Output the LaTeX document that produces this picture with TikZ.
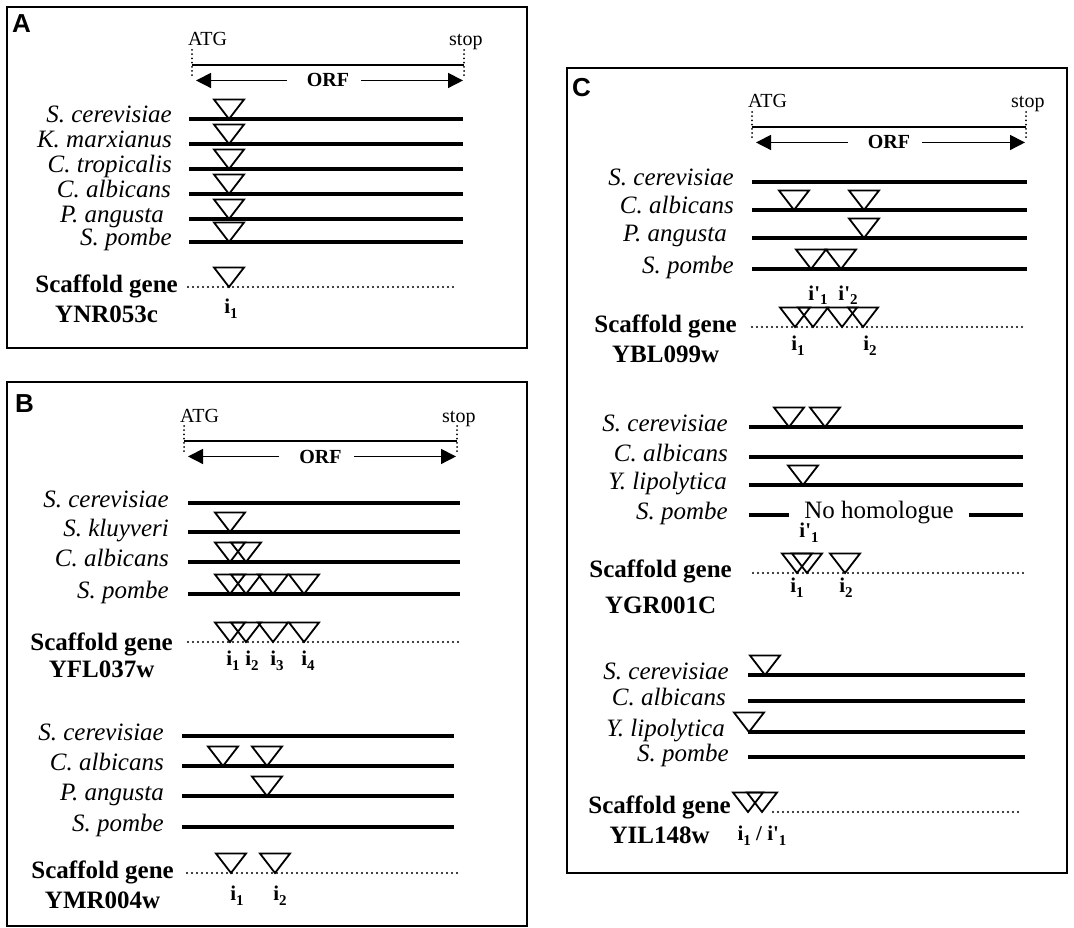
\documentclass[tikz,border=0pt]{standalone}
\usepackage{fontspec}
\setmainfont{Liberation Serif}
\newfontfamily\panelfont{Liberation Sans}
\usetikzlibrary{arrows.meta,positioning}
\tikzset{%
  panel/.style={draw, line width=1.7pt},% panel frame
  letter/.style={anchor=base west, inner sep=0, font=\panelfont\bfseries\fontsize{26}{26}\selectfont},
  species/.style={anchor=base east, inner sep=0, font=\itshape\fontsize{25}{25}\selectfont},
  scaffold/.style={anchor=base east, inner sep=0, font=\bfseries\fontsize{25}{25}\selectfont},
  geneid/.style={anchor=base, inner sep=0, font=\bfseries\fontsize{25}{25}\selectfont},
  site/.style={anchor=base, inner sep=0, font=\bfseries\fontsize{21}{21}\selectfont},% intron index
  codon/.style={anchor=base west, inner sep=0, font=\fontsize{20}{20}\selectfont},
  orf/.style={anchor=base, inner sep=0, font=\bfseries\fontsize{20}{20}\selectfont},
  nohom/.style={anchor=base, inner ysep=0, inner xsep=15pt, font=\fontsize{25}{25}\selectfont},
  orfline/.style={line width=3.2pt},% coding sequence
  gap/.style={line width=2.3pt, line cap=round, dash pattern=on 0pt off 5pt},% dotted scaffold
  span/.style={line width=2.6pt},
  tick/.style={line width=2pt, line cap=round, dash pattern=on 0pt off 4.2pt},
  orfarrow/.style={line width=1.5pt, -{Triangle[length=15pt,width=15pt]}},
  intron/.style={line width=1.8pt, line join=miter}% intron position
}
\newcommand*{\intron}[2]{\draw[intron] (#1,#2) -- ++(-15,-19.5) -- ++(30,0) -- cycle;}
\newcommand*{\orfheader}[4]{%
  \node[codon] (atg#1) at ({#2-4},{#4-19}) {ATG};
  \node[codon] (stop#1) at ({#3-15},{#4-19}) {stop};
  \draw[span] (#2,#4) -- (#3,#4);
  \draw[tick] (#2,{#4-15}) -- (#2,{#4+12});
  \draw[tick] (#3,{#4-15}) -- (#3,{#4+12});
  \node[orf] (orf#1) at ({(#2+#3)/2},{#4+22}) {ORF};
  \coordinate (start#1) at ({#2+4},{#4+15});
  \coordinate (end#1) at ({#3-1},{#4+15});
  \draw[orfarrow] ([xshift=-20pt]orf#1.west) -- (start#1 |- orf#1.west);
  \draw[orfarrow] ([xshift=12pt]orf#1.east) -- (end#1 |- orf#1.east);
}
\newcommand*{\prm}{\textquotesingle}
\newcommand*{\sub}[1]{\raisebox{-5pt}{\fontsize{15}{15}\selectfont#1}}

\begin{document}
\begin{tikzpicture}[x=1pt, y=-1pt]
\useasboundingbox (0,0) rectangle (1074,928);

% panel A
\draw[panel] (7,7) rectangle (527,348);
\node[letter] (A) at (12,33) {A};
\orfheader{A}{192}{464}{65}
\node[species] (scerA) at (172,123) {S. cerevisiae};
\node[species] (kmarA) at (172,148) {K. marxianus};
\node[species] (ctroA) at (172,173) {C. tropicalis};
\node[species] (calbA) at (171,198) {C. albicans};
\node[species] (pangA) at (164,223) {P. angusta};
\node[species] (spomA) at (172,246) {S. pombe};
\draw[orfline] (189,119) -- (463,119);
\draw[orfline] (189,144) -- (463,144);
\draw[orfline] (189,169) -- (463,169);
\draw[orfline] (189,194) -- (463,194);
\draw[orfline] (189,219) -- (463,219);
\draw[orfline] (189,242) -- (463,242);
\intron{229}{119} \intron{229}{144} \intron{229}{169}
\intron{229}{194} \intron{229}{219} \intron{229}{242}
\draw[gap] (188,287) -- (457,287);
\intron{229}{287}
\node[scaffold] (sgA) at (178,293) {Scaffold gene};
\node[geneid] (idA) at ([yshift=-30pt]sgA.base) {YNR053c};
\node[site] (iA1) at (231,313) {i\sub{1}};

% panel B
\draw[panel] (7,382) rectangle (527,926);
\node[letter] (B) at (15,412) {B};
\orfheader{B}{184}{457}{441}
\node[species] (scerB) at (169,507) {S. cerevisiae};
\node[species] (sklB) at (169,536) {S. kluyveri};
\node[species] (calbB) at (169,566) {C. albicans};
\node[species] (spomB) at (169,598) {S. pombe};
\draw[orfline] (188,503) -- (460,503);
\draw[orfline] (188,532) -- (460,532);
\draw[orfline] (188,562) -- (460,562);
\draw[orfline] (188,594) -- (460,594);
\intron{230}{532}
\intron{230}{562} \intron{246}{562}
\intron{230}{594} \intron{246}{594} \intron{273}{594} \intron{304}{594}
\draw[gap] (188,642) -- (458,642);
\intron{230}{642} \intron{246}{642} \intron{273}{642} \intron{304}{642}
\node[scaffold] (sgB) at (173,650) {Scaffold gene};
\node[geneid] (idB) at ([yshift=-27pt]sgB.base) {YFL037w};
\node[site] (iB1) at (233,665) {i\sub{1}};
\node[site] (iB2) at (252,665) {i\sub{2}};
\node[site] (iB3) at (277,665) {i\sub{3}};
\node[site] (iB4) at (308,665) {i\sub{4}};

\node[species] (scerB2) at (164,740) {S. cerevisiae};
\node[species] (calbB2) at (164,770) {C. albicans};
\node[species] (pangB2) at (164,800) {P. angusta};
\node[species] (spomB2) at (164,831) {S. pombe};
\draw[orfline] (182,736) -- (454,736);
\draw[orfline] (182,766) -- (454,766);
\draw[orfline] (182,796) -- (454,796);
\draw[orfline] (182,827) -- (454,827);
\intron{223}{766} \intron{267}{766}
\intron{267}{796}
\draw[gap] (187,873) -- (457,873);
\intron{231}{873} \intron{275}{873}
\node[scaffold] (sgB2) at (174,878) {Scaffold gene};
\node[geneid] (idB2) at ([yshift=-30pt]sgB2.base) {YMR004w};
\node[site] (iB21) at (237,900) {i\sub{1}};
\node[site] (iB22) at (280,900) {i\sub{2}};

% panel C
\draw[panel] (567,68) rectangle (1067,873);
\node[letter] (C) at (572,97) {C};
\orfheader{C}{752}{1026}{127}
\node[species] (scerC) at (734,186) {S. cerevisiae};
\node[species] (calbC) at (734,214) {C. albicans};
\node[species] (pangC) at (727,242) {P. angusta};
\node[species] (spomC) at (734,273) {S. pombe};
\draw[orfline] (752,182) -- (1027,182);
\draw[orfline] (752,210) -- (1027,210);
\draw[orfline] (752,238) -- (1027,238);
\draw[orfline] (752,269) -- (1027,269);
\intron{794}{210} \intron{864}{210}
\intron{864}{238}
\intron{811}{269} \intron{841}{269}
\node[site] (pC1) at (818,300) {i\prm\sub{1}};
\node[site] (pC2) at (848,300) {i\prm\sub{2}};
\draw[gap] (752,327) -- (1022,327);
\intron{795}{327} \intron{813}{327} \intron{842}{327} \intron{863}{327}
\node[scaffold] (sgC) at (737,332) {Scaffold gene};
\node[geneid] (idC) at ([yshift=-30pt]sgC.base) {YBL099w};
\node[site] (iC1) at (798,350) {i\sub{1}};
\node[site] (iC2) at (870,350) {i\sub{2}};

\node[species] (scerC2) at (728,431) {S. cerevisiae};
\node[species] (calbC2) at (728,461) {C. albicans};
\node[species] (ylipC2) at (727,489) {Y. lipolytica};
\node[species] (spomC2) at (728,519) {S. pombe};
\draw[orfline] (749,427) -- (1023,427);
\draw[orfline] (749,457) -- (1023,457);
\draw[orfline] (749,485) -- (1023,485);
\node[nohom] (noC2) at (879,518) {No homologue};
\coordinate (spomL) at (749,515);
\coordinate (spomR) at (1023,515);
\draw[orfline] (spomL) -- (spomL -| noC2.west);
\draw[orfline] (spomR -| noC2.east) -- (spomR);
\intron{789}{427} \intron{825}{427}
\intron{803}{485}
\node[site] (pC21) at (809,537) {i\prm\sub{1}};
\draw[gap] (753,573) -- (1023,573);
\intron{797}{573} \intron{807}{573} \intron{845}{573}
\node[scaffold] (sgC2) at (732,577) {Scaffold gene};
\node[geneid] (idC2) at ([yshift=-36pt]sgC2.base) {YGR001C};
\node[site] (iC21) at (797,592) {i\sub{1}};
\node[site] (iC22) at (846,592) {i\sub{2}};

\node[species] (scerC3) at (729,679) {S. cerevisiae};
\node[species] (calbC3) at (726,705) {C. albicans};
\node[species] (ylipC3) at (725,736) {Y. lipolytica};
\node[species] (spomC3) at (729,761) {S. pombe};
\draw[orfline] (748,675) -- (1025,675);
\draw[orfline] (748,701) -- (1025,701);
\draw[orfline] (748,732) -- (1025,732);
\draw[orfline] (748,757) -- (1025,757);
\intron{765}{675}
\intron{749}{732}
\draw[gap] (773,812) -- (1022,812);
\intron{748}{812} \intron{762}{812}
\node[scaffold] (sgC3) at (731,813) {Scaffold gene};
\node[geneid] (idC3) at ([yshift=-30pt]sgC3.base) {YIL148w};
\node[site] (iC3) at (762,840) {i\sub{1} / i\prm\sub{1}};

\end{tikzpicture}
\end{document}
